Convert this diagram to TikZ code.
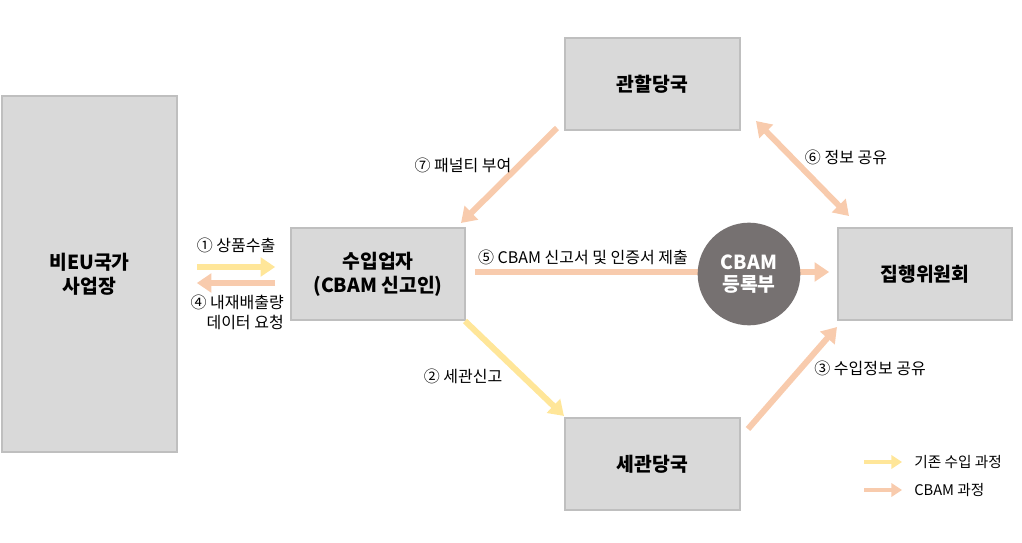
\documentclass[tikz,border=0pt]{standalone}
\usepackage{fontspec}
\setmainfont{Noto Sans CJK KR}
\newfontfamily\kr{Noto Sans CJK KR}
\usetikzlibrary{arrows.meta}
\definecolor{boxfill}{HTML}{D9D9D9}
\definecolor{boxline}{HTML}{BFBFBF}
\definecolor{ylw}{HTML}{FFE699}
\definecolor{pch}{HTML}{F8CBAD}
\definecolor{circ}{HTML}{767171}
\tikzset{
  box/.style={draw=boxline, line width=1.2pt, fill=boxfill, inner sep=0pt, font=\kr\fontsize{14.5}{18}\selectfont\bfseries, align=center},
  lbl/.style={font=\kr\fontsize{12}{15}\selectfont, inner sep=0pt},
  yarr/.style={draw=ylw, line width=4.5pt, -{Triangle[length=11pt,width=14pt]}},
  parr/.style={draw=pch, line width=4.5pt, -{Triangle[length=11pt,width=14pt]}},
  pdarr/.style={draw=pch, line width=4.5pt, {Triangle[length=11pt,width=14pt]}-{Triangle[length=11pt,width=14pt]}},
}
\begin{document}
\begin{tikzpicture}[x=0.75pt,y=-0.75pt]
\useasboundingbox (0,0) rectangle (1022,543);
% boxes
\node[box, minimum width=131.25pt, minimum height=267pt] (src) at (89.5,274) {비EU국가\\사업장};
\node[box, minimum width=130.5pt, minimum height=69pt] (imp) at (378,274) {수입업자\\(CBAM 신고인)};
\node[box, minimum width=131.25pt, minimum height=69pt] (jur) at (652.5,84) {관할당국};
\node[box, minimum width=131.25pt, minimum height=69pt] (cus) at (652.5,464) {세관당국};
\node[box, minimum width=130.5pt, minimum height=69pt] (com) at (925,274) {집행위원회};
% endpoints
\coordinate (p7s) at (557,128); \coordinate (p7e) at (461,223);
\coordinate (p6s) at (756,121); \coordinate (p6e) at (849,216);
\coordinate (p2s) at (465,321); \coordinate (p2e) at (564,416);
\coordinate (p3s) at (748,429); \coordinate (p3e) at (837,327);
% arrow 5 behind circle
\draw[parr] ([xshift=6.75pt,yshift=1.5pt]imp.east) -- ([xshift=-6pt,yshift=1.5pt]com.west);
\node[circle, fill=circ, minimum size=77pt, inner sep=0pt, text=white, font=\kr\fontsize{14.5}{17}\selectfont\bfseries, align=center] (reg) at (749,274) {CBAM\\등록부};
% arrows
\draw[yarr] ([xshift=14.25pt,yshift=5.25pt]src.east) -- ([xshift=-11.25pt,yshift=5.25pt]imp.west);
\draw[parr] ([xshift=-11.25pt,yshift=-6.75pt]imp.west) -- ([xshift=14.25pt,yshift=-6.75pt]src.east);
\draw[parr] (p7s) -- (p7e);
\draw[pdarr] (p6s) -- (p6e);
\draw[yarr] (p2s) -- (p2e);
\draw[parr] (p3s) -- (p3e);
% labels
\node[lbl] (l1) at (236,245) {① 상품수출};
\node[lbl, align=right, anchor=north east] (l4) at (284,295) {④ 내재배출량\\데이터 요청};
\node[lbl] (l7) at (463,165) {⑦ 패널티 부여};
\node[lbl] (l6) at (846,157) {⑥ 정보 공유};
\node[lbl] (l5) at (583,257) {⑤ CBAM 신고서 및 인증서 제출};
\node[lbl] (l2) at (463,376) {② 세관신고};
\node[lbl] (l3) at (870,368) {③ 수입정보 공유};
% legend
\coordinate (lg1s) at (864,462); \coordinate (lg1e) at (902,462);
\coordinate (lg2s) at (864,490); \coordinate (lg2e) at (902,490);
\draw[draw=ylw, line width=3pt, -{Triangle[length=8pt,width=10pt]}] (lg1s) -- (lg1e);
\draw[draw=pch, line width=3pt, -{Triangle[length=8pt,width=10pt]}] (lg2s) -- (lg2e);
\node[lbl, anchor=west, font=\kr\fontsize{11}{13}\selectfont] (lt1) at (914,462) {기존 수입 과정};
\node[lbl, anchor=west, font=\kr\fontsize{11}{13}\selectfont] (lt2) at (914,490) {CBAM 과정};
\end{tikzpicture}
\end{document}
